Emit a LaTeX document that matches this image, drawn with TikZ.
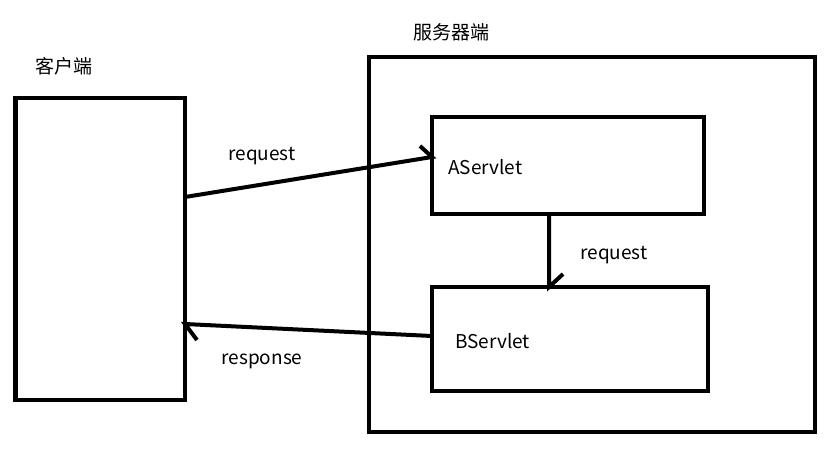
\documentclass[tikz,border=0pt]{standalone}
\usepackage{fontspec}
\setmainfont{Noto Sans CJK SC}
\tikzset{
  box/.style={draw, line width=4.5pt, rectangle, inner sep=0pt, outer sep=0pt},
  lbl/.style={font=\fontsize{19pt}{23pt}\selectfont, inner sep=0pt, anchor=base},
  conn/.style={line width=4pt, line join=miter},
}
\begin{document}
\begin{tikzpicture}[x=1pt, y=-1pt]
\useasboundingbox (0,0) rectangle (835,451);
\node[box, minimum width=169.5pt, minimum height=302pt] (client) at (100.25,249) {};
\node[box, minimum width=446pt, minimum height=375pt] (server) at (592,244.5) {};
\node[box, minimum width=272pt, minimum height=97pt] (A) at (568,165.5) {};
\node[box, minimum width=276pt, minimum height=104pt] (B) at (570,339) {};
\node[lbl] (clientlbl) at (63.5,73) {客户端};
\node[lbl] (serverlbl) at (451,39) {服务器端};
\node[lbl, anchor=base west] (Albl) at (448,174) {AServlet};
\node[lbl, anchor=base west] (Blbl) at (455,348) {BServlet};
\node[lbl] (req1) at (262,160) {request};
\node[lbl] (req2) at (614,259) {request};
\node[lbl] (resp) at (262,364) {response};
\coordinate (t1) at ([yshift=8.5pt]A.west);
\coordinate (t2) at ([yshift=-75pt]client.east);
\coordinate (t3) at ([xshift=-21pt]B.north);
\draw[conn] ([yshift=52pt]client.east) -- (t1) -- ++(-12,-11);
\draw[conn] ([yshift=3pt]B.west) -- (t2) -- ++(12,16);
\draw[conn] ([xshift=-19pt]A.south) -- (t3) -- ++(14,-13);
\end{tikzpicture}
\end{document}
